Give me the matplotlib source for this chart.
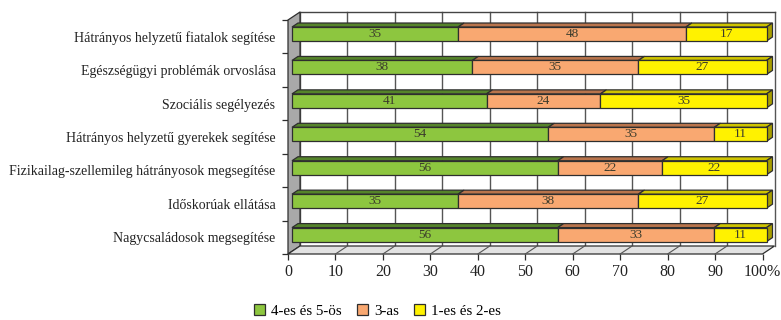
import matplotlib.pyplot as plt
from matplotlib.patches import Polygon, Patch

plt.rcParams['font.family'] = ['Liberation Serif', 'DejaVu Serif']

# categories from bottom to top
categories = [
    "Nagycsaládosok megsegítése",
    "Időskorúak ellátása",
    "Fizikailag-szellemileg hátrányosok megsegítése",
    "Hátrányos helyzetű gyerekek segítése",
    "Szociális segélyezés",
    "Egészségügyi problémák orvoslása",
    "Hátrányos helyzetű fiatalok segítése",
]
good = [56, 35, 56, 54, 41, 38, 35]      # 4-es és 5-ös
mid = [33, 38, 22, 35, 24, 35, 48]       # 3-as
bad = [11, 27, 22, 11, 35, 27, 17]       # 1-es és 2-es
series_names = ["4-es és 5-ös", "3-as", "1-es és 2-es"]
xtick_labels = ["0", "10", "20", "30", "40", "50", "60", "70", "80", "90", "100%"]

front = ["#8dc63f", "#f9a871", "#fff200"]
top = ["#55842a", "#b9744c", "#cfc400"]
side = ["#3f6a1c", "#9a5c38", "#a89e00"]
edge = "#2e2e2e"

W, H = 781, 320
fig = plt.figure(figsize=(W / 100, H / 100), dpi=100)
ax_px = (288, 254, 474.5, 234)   # left, bottom(from top), width, height in pixels
ax = fig.add_axes([ax_px[0] / W, (H - ax_px[1]) / H, ax_px[2] / W, ax_px[3] / H])
n = len(categories)
ax.set_xlim(0, 100)
ax.set_ylim(-0.5, n - 0.5)
for s in ax.spines.values():
    s.set_visible(False)

# pixel -> data conversions for the 3D depth
pxx = ax_px[2] / 100
pxy = ax_px[3] / n
wdx, wdy = 12 / pxx, 8 / pxy          # wall depth
bx0, by0 = 4 / pxx, 2.7 / pxy         # bar front plane offset
bdx, bdy = 6 / pxx, 4 / pxy           # bar depth
bh = 14 / pxy

y0, y1 = -0.5, n - 0.5

# back wall
ax.add_patch(Polygon([(wdx, y0 + wdy), (100 + wdx, y0 + wdy), (100 + wdx, y1 + wdy), (wdx, y1 + wdy)],
                     closed=True, facecolor="white", edgecolor="none", zorder=0, clip_on=False))
for v in range(0, 101, 10):
    ax.plot([v + wdx, v + wdx], [y0 + wdy, y1 + wdy], color="#555555", lw=1.0, zorder=1, clip_on=False)
ax.plot([wdx, 100 + wdx], [y1 + wdy, y1 + wdy], color="#444444", lw=1.0, zorder=1, clip_on=False)

# side wall
ax.add_patch(Polygon([(0, y0), (0, y1), (wdx, y1 + wdy), (wdx, y0 + wdy)], closed=True,
                     facecolor="#a9a9a9", edgecolor=edge, lw=0.9, zorder=2, clip_on=False))
# floor
ax.add_patch(Polygon([(0, y0), (100, y0), (100 + wdx, y0 + wdy), (wdx, y0 + wdy)], closed=True,
                     facecolor="#e2e2e2", edgecolor=edge, lw=0.9, zorder=2, clip_on=False))
for v in range(10, 100, 10):
    ax.plot([v, v + wdx], [y0, y0 + wdy], color="#555555", lw=0.8, zorder=2, clip_on=False)

# stacked 3D bars
data = [good, mid, bad]
for i in range(n):
    yc = i + by0
    yb, yt = yc - bh / 2, yc + bh / 2
    left = 0
    for k, vals in enumerate(data):
        v = vals[i]
        xa, xb = bx0 + left, bx0 + left + v
        ax.barh(yc, v, left=xa, height=bh, color=front[k], edgecolor=edge, lw=0.9, zorder=4, clip_on=False)
        ax.add_patch(Polygon([(xa, yt), (xb, yt), (xb + bdx, yt + bdy), (xa + bdx, yt + bdy)], closed=True,
                             facecolor=top[k], edgecolor=edge, lw=0.9, zorder=3, clip_on=False))
        ax.text(xa + v / 2, yc, str(v), ha="center", va="center", fontsize=9.5, color="#3b3b2b", zorder=6)
        left += v
        if k == len(data) - 1:
            ax.add_patch(Polygon([(xb, yb), (xb, yt), (xb + bdx, yt + bdy), (xb + bdx, yb + bdy)],
                                 closed=True, facecolor=side[k], edgecolor=edge, lw=0.9, zorder=3,
                                 clip_on=False))

# axis ticks and labels
ax.set_xticks(range(0, 101, 10))
ax.set_xticklabels(xtick_labels, fontsize=11.5, color="#222222")
ax.tick_params(axis="x", length=4.5, width=0.9, color=edge, pad=3)
ax.set_yticks([b - 0.5 for b in range(n + 1)])
ax.set_yticklabels([])
ax.tick_params(axis="y", which="major", length=4, width=0.9, color=edge)
ax.set_yticks(range(n), minor=True)
ax.set_yticklabels(categories, minor=True, fontsize=10, color="#222222")
ax.tick_params(axis="y", which="minor", length=0, pad=9)

handles = [Patch(facecolor=c, edgecolor=edge, lw=0.9) for c in front]
fig.legend(handles, series_names, loc="center", bbox_to_anchor=(0.483, 0.028), ncol=3, frameon=False,
           fontsize=10.8, handlelength=0.75, handleheight=0.75, handletextpad=0.4, columnspacing=1.0)

fig.savefig("out.png", dpi=100)
